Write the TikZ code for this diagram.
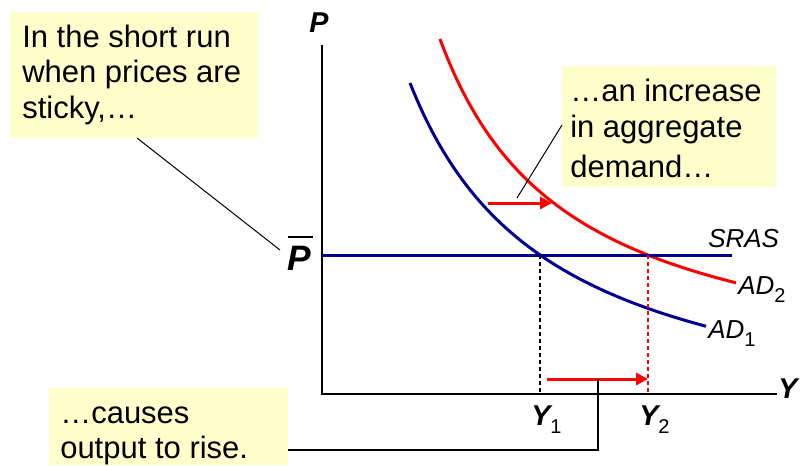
\documentclass[tikz,border=0pt]{standalone}
\usepackage{fontspec}
\setmainfont{Liberation Sans}
\usetikzlibrary{arrows.meta}
\definecolor{navy}{RGB}{0,0,140}
\definecolor{notefill}{RGB}{255,255,204}
\newcommand\notefont{\fontsize{23.25}{27}\selectfont}
\newcommand\axfont{\fontsize{21.5}{24}\selectfont\bfseries\itshape}
\newcommand\pbarfont{\fontsize{26.5}{30}\selectfont\bfseries\itshape}
\newcommand\curvefont{\fontsize{19.5}{22}\selectfont\itshape}
\newcommand\subfont{\fontsize{15}{17}\selectfont\upshape\mdseries}
\newcommand\lowsub[1]{\raisebox{-6pt}{\subfont #1}}
\begin{document}
\begin{tikzpicture}[x=0.75pt,y=-0.75pt,
  notebox/.style={fill=notefill,draw=none},
  noteline/.style={anchor=base west,inner sep=0pt,font=\notefont},
  axislabel/.style={inner sep=0pt,font=\axfont},
  curvelabel/.style={anchor=base west,inner sep=0pt,font=\curvefont},
  axisline/.style={line width=1.5pt,black},
  adone/.style={line width=2.25pt,navy},
  adtwo/.style={line width=2.25pt,red},
  srasline/.style={line width=2.25pt,navy},
  guide/.style={line width=0.8pt,dash pattern=on 3pt off 2.25pt},
  shiftarrow/.style={line width=2.25pt,red,-{Triangle[length=9pt,width=9pt]}},
  thinlead/.style={line width=0.75pt,black},
  thicklead/.style={line width=1.5pt,black}]
\useasboundingbox (0,0) rectangle (812,465);

% note boxes
\fill[notebox] (10,12) rectangle (258,138);
\fill[notebox] (562,66) rectangle (776,187);
\fill[notebox] (49,388) rectangle (288,465);

\node[noteline] (t1a) at (22,47) {In the short run};
\node[noteline] (t1b) at (22,82.5) {when prices are};
\node[noteline] (t1c) at (22,118) {sticky,…};

\node[noteline] (t2a) at (570,101) {…an increase};
\node[noteline] (t2b) at (570,137) {in aggregate};
\node[noteline] (t2c) at (570,177) {demand…};

\node[noteline] (t3a) at (60,423) {…causes};
\node[noteline] (t3b) at (60,458) {output to rise.};

% axes
\coordinate (ytop) at (322,45);
\coordinate (origin) at (322,394);
\coordinate (xend) at (777,394);
\draw[axisline] (ytop) -- (origin) -- (xend);
\node[axislabel,anchor=base] (plab) at (319,32) {P};
\node[axislabel,anchor=base west] (ylab) at (778,398) {Y};

% P bar
\node[inner sep=0pt,anchor=base west,font=\pbarfont] (pbar) at (287,270) {P};
\draw[line width=1.5pt] (288,237) -- (313,237);

% curves
\draw[adone] plot[domain=410:706,samples=90] (\x,{443.1-512.12/((\x-267.8)/100)});
\draw[adtwo] plot[domain=440:736,samples=90] (\x,{389.1-451.94/((\x-310.9)/100)});

% SRAS
\coordinate (srasA) at (322,255);
\coordinate (srasB) at (732,255);
\draw[srasline] (srasA) -- (srasB);

% equilibrium guides
\coordinate (e1) at (540,255);
\coordinate (e1b) at (540,394);
\coordinate (e2) at (648,255);
\coordinate (e2b) at (648,394);
\draw[guide,black] (e1) -- (e1b);
\draw[guide,red] (e2) -- (e2b);

% labels
\node[curvelabel] (sras) at (708,247) {SRAS};
\node[curvelabel] (ad2) at (738,294) {AD\lowsub{2}};
\node[curvelabel] (ad1) at (708,338) {AD\lowsub{1}};
\node[axislabel,anchor=base west] (y1) at (531,425) {Y\lowsub{1}};
\node[axislabel,anchor=base west] (y2) at (639,425) {Y\lowsub{2}};

% shift arrows
\coordinate (sa1) at (488,203);
\coordinate (sa2) at (552,203);
\draw[shiftarrow] (sa1) -- (sa2);
\coordinate (sb1) at (547,379);
\coordinate (sb2) at (648,379);
\draw[shiftarrow] (sb1) -- (sb2);

% leaders
\coordinate (l1a) at (137,138);
\coordinate (l1b) at (280,250);
\draw[thinlead] (l1a) -- (l1b);
\coordinate (l2a) at (562,125);
\coordinate (l2b) at (517,198);
\draw[thinlead] (l2a) -- (l2b);
\coordinate (l3a) at (288,450);
\coordinate (l3b) at (598,450);
\coordinate (l3c) at (598,379);
\draw[thicklead] (l3a) -- (l3b) -- (l3c);
\end{tikzpicture}
\end{document}
